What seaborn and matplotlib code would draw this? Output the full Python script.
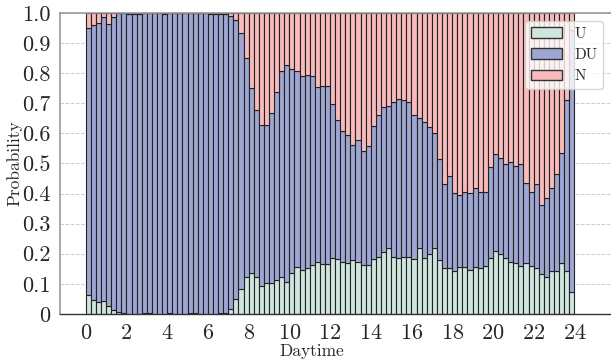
import numpy as np
import pandas as pd
import seaborn as sns
import matplotlib.pyplot as plt
from matplotlib.patches import Patch

sns.set_theme(style="whitegrid")
plt.rcParams['font.family'] = ['cmr10', 'DejaVu Serif']
plt.rcParams['mathtext.fontset'] = 'cm'
plt.rcParams['axes.formatter.use_mathtext'] = True

# 15-minute slots over one day, probability of each state
U = [0.063, 0.047, 0.041, 0.043, 0.027, 0.013, 0.007, 0.002,
     0.001, 0.001, 0.001, 0.002, 0.002, 0.001, 0.001, 0.001,
     0.002, 0.001, 0.001, 0.001, 0.002, 0.002, 0.001, 0.001,
     0.001, 0.001, 0.002, 0.003, 0.016, 0.049, 0.082, 0.124,
     0.137, 0.124, 0.093, 0.102, 0.104, 0.113, 0.122, 0.107,
     0.137, 0.155, 0.146, 0.154, 0.161, 0.171, 0.165, 0.165,
     0.185, 0.182, 0.171, 0.168, 0.178, 0.171, 0.161, 0.161,
     0.183, 0.190, 0.204, 0.218, 0.190, 0.185, 0.188, 0.188,
     0.184, 0.218, 0.185, 0.199, 0.218, 0.179, 0.154, 0.152,
     0.144, 0.155, 0.157, 0.146, 0.157, 0.152, 0.160, 0.187,
     0.210, 0.199, 0.187, 0.174, 0.170, 0.160, 0.170, 0.160,
     0.154, 0.132, 0.122, 0.143, 0.141, 0.168, 0.141, 0.072]

DU = [0.886, 0.912, 0.925, 0.945, 0.936, 0.975, 0.992, 0.998,
      0.996, 0.995, 0.997, 0.998, 0.998, 0.999, 0.999, 0.996,
      0.998, 0.999, 0.999, 0.999, 0.998, 0.998, 0.999, 0.999,
      0.997, 0.996, 0.996, 0.993, 0.975, 0.928, 0.850, 0.728,
      0.613, 0.554, 0.534, 0.525, 0.563, 0.623, 0.685, 0.719,
      0.676, 0.652, 0.646, 0.639, 0.629, 0.582, 0.592, 0.592,
      0.512, 0.463, 0.437, 0.427, 0.384, 0.407, 0.379, 0.397,
      0.442, 0.472, 0.483, 0.473, 0.513, 0.529, 0.524, 0.515,
      0.476, 0.432, 0.452, 0.423, 0.382, 0.337, 0.278, 0.307,
      0.257, 0.240, 0.249, 0.257, 0.260, 0.252, 0.246, 0.300,
      0.320, 0.318, 0.311, 0.332, 0.323, 0.337, 0.264, 0.244,
      0.278, 0.230, 0.262, 0.277, 0.324, 0.366, 0.570, 0.872]

N = [0.051, 0.041, 0.034, 0.012, 0.037, 0.012, 0.001, 0.000,
     0.003, 0.004, 0.002, 0.000, 0.000, 0.000, 0.000, 0.003,
     0.000, 0.000, 0.000, 0.000, 0.000, 0.000, 0.000, 0.000,
     0.002, 0.003, 0.002, 0.004, 0.009, 0.023, 0.068, 0.148,
     0.250, 0.322, 0.373, 0.373, 0.333, 0.264, 0.193, 0.174,
     0.187, 0.193, 0.208, 0.207, 0.210, 0.247, 0.243, 0.243,
     0.303, 0.355, 0.392, 0.405, 0.438, 0.422, 0.460, 0.442,
     0.375, 0.338, 0.313, 0.309, 0.297, 0.286, 0.288, 0.297,
     0.340, 0.350, 0.363, 0.378, 0.400, 0.484, 0.568, 0.541,
     0.599, 0.605, 0.594, 0.597, 0.583, 0.596, 0.594, 0.513,
     0.470, 0.483, 0.502, 0.494, 0.507, 0.503, 0.566, 0.596,
     0.568, 0.638, 0.616, 0.580, 0.535, 0.466, 0.289, 0.056]

states = ['U', 'DU', 'N']
colors = {'U': '#cee6de', 'DU': '#9ea6d3', 'N': '#f8baba'}

slot = 0.25
n_slots = len(U)
centers = np.arange(n_slots) * slot + slot / 2

df = pd.concat([
    pd.DataFrame({'hour': centers, 'prob': U, 'state': 'U'}),
    pd.DataFrame({'hour': centers, 'prob': DU, 'state': 'DU'}),
    pd.DataFrame({'hour': centers, 'prob': N, 'state': 'N'}),
], ignore_index=True)

fig = plt.figure(figsize=(6.11, 3.62), dpi=100)
ax = fig.add_axes([0.098, 0.133, 0.902, 0.831])

# seaborn stacks the first hue level on top, so reverse the order
sns.histplot(data=df, x='hour', weights='prob', hue='state',
             hue_order=states[::-1], palette=colors, bins=n_slots,
             binrange=(0, 24), multiple='stack', alpha=1.0,
             edgecolor='#222222', linewidth=0.8, legend=False, ax=ax)

ax.set_xlim(-1.27, 25.8)
ax.set_ylim(0, 1)
ax.set_xticks(np.arange(0, 25, 2))
yt = np.round(np.arange(0, 1.01, 0.1), 1)
ax.set_yticks(yt)
ax.set_yticklabels(['0'] + [f'{v:.1f}' for v in yt[1:]])
ax.tick_params(axis='both', labelsize=16, length=4, width=0.8,
               color='#888888', pad=3)
ax.set_xlabel('Daytime', fontsize=12.5)
ax.set_ylabel('Probability', fontsize=12.5)
ax.xaxis.set_label_coords(0.457, -0.098)
ax.yaxis.set_label_coords(-0.068, 0.5)

ax.grid(False)
ax.yaxis.grid(True, linestyle='--', color='#cccccc', linewidth=0.7)
ax.set_axisbelow(True)
for side in ['left', 'top']:
    ax.spines[side].set_color('#999999')
    ax.spines[side].set_linewidth(1.2)
ax.spines['bottom'].set_color('#333333')
ax.spines['bottom'].set_linewidth(1.0)
ax.spines['right'].set_visible(False)

handles = [Patch(facecolor=colors[s], edgecolor='#333333', label=s) for s in states]
ax.legend(handles=handles, loc='upper right', fontsize=11, framealpha=0.8,
          fancybox=True)

fig.savefig('out.png', dpi=100)
